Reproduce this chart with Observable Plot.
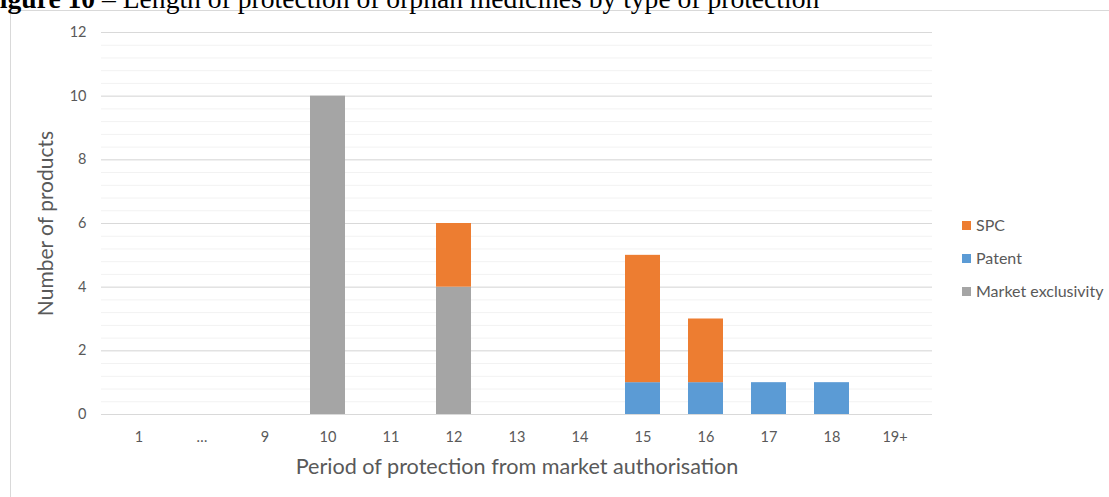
<!DOCTYPE html>
<html>
<head>
<meta charset="utf-8">
<script src="https://cdn.jsdelivr.net/npm/d3@7"></script>
<script src="https://cdn.jsdelivr.net/npm/@observablehq/plot@0.6"></script>
<style>
  html, body { margin: 0; padding: 0; background: #fff; overflow: hidden; }
  #wrap { position: relative; width: 1109px; height: 497px; overflow: hidden; }
  #title { position: absolute; left: -17px; top: -15px; font-family: "Liberation Serif", "Times New Roman", serif; font-size: 27.6px; color: #000; white-space: nowrap; line-height: 1; }
  #frame { position: absolute; left: 10px; top: 10px; width: 1200px; height: 600px; border: 1px solid #d9d9d9; box-sizing: border-box; }
  #chart { position: absolute; left: 0; top: 0; }
  #legend { position: absolute; left: 962px; top: 215px; font-family: Lato, "Open Sans", sans-serif; font-size: 16px; color: #595959; }
  #legend div { height: 33px; display: flex; align-items: flex-start; }
  #legend span.sw { display: inline-block; width: 9px; height: 9px; margin-right: 5px; margin-top: 6px; }
</style>
</head>
<body>
<div id="wrap">
  <div id="frame"></div>
  <div id="title"><b>Figure 10</b> – Length of protection of orphan medicines by type of protection</div>
  <div id="chart"></div>
  <div id="legend"></div>
</div>
<script>
const categories = ["1", "…", "9", "10", "11", "12", "13", "14", "15", "16", "17", "18", "19+"];
const seriesNames = ["SPC", "Patent", "Market exclusivity"];
const seriesColors = ["#ED7D31", "#5B9BD5", "#A5A5A5"];
const marketExclusivity = [0, 0, 0, 10, 0, 4, 0, 0, 0, 0, 0, 0, 0];
const patent =            [0, 0, 0, 0, 0, 0, 0, 0, 1, 1, 1, 1, 0];
const spc =               [0, 0, 0, 0, 0, 2, 0, 0, 4, 2, 0, 0, 0];
const yTicks = [0, 2, 4, 6, 8, 10, 12];

const data = [];
categories.forEach((c, i) => {
  data.push({cat: c, series: "Market exclusivity", value: marketExclusivity[i]});
  data.push({cat: c, series: "Patent", value: patent[i]});
  data.push({cat: c, series: "SPC", value: spc[i]});
});
const bars = data.filter(d => d.value > 0);
const minor = d3.range(0, 12.001, 0.4).map(v => +v.toFixed(1));

const font = 'Lato, "Open Sans", sans-serif';
const chart = Plot.plot({
  width: 1109,
  height: 497,
  marginTop: 32,
  marginBottom: 83,
  marginLeft: 101,
  marginRight: 177,
  style: {fontFamily: font, fontSize: "14px", color: "#595959", background: "transparent"},
  x: {domain: categories, paddingInner: 0.44, paddingOuter: 0.22, label: null, axis: null},
  y: {domain: [0, 12], label: null, axis: null},
  color: {domain: seriesNames, range: seriesColors},
  marks: [
    Plot.ruleY(minor, {stroke: "#f2f2f2", strokeWidth: 1}),
    Plot.ruleY(yTicks, {stroke: "#d9d9d9", strokeWidth: 1}),
    Plot.barY(bars, Plot.stackY({order: ["Market exclusivity", "Patent", "SPC"]}, {x: "cat", y: "value", fill: "series", z: "series"})),
    Plot.text(yTicks, {y: d => d, frameAnchor: "left", textAnchor: "end", dx: -15, fontSize: 14.5, fill: "#595959", text: d => String(d)}),
    Plot.text(categories, {x: d => d, frameAnchor: "bottom", lineAnchor: "middle", dy: 23, fontSize: 14.5, fill: "#595959", text: d => d}),
    Plot.text(["Number of products"], {frameAnchor: "left", textAnchor: "middle", dx: -55, rotate: -90, fontSize: 21, fill: "#595959"}),
    Plot.text(["Period of protection from market authorisation"], {frameAnchor: "bottom", lineAnchor: "middle", dy: 53, fontSize: 21.6, fill: "#595959"})
  ]
});
document.getElementById("chart").appendChild(chart);

const legend = document.getElementById("legend");
seriesNames.forEach((s, i) => {
  const row = document.createElement("div");
  row.innerHTML = `<span class="sw" style="background:${seriesColors[i]}"></span><span>${s}</span>`;
  legend.appendChild(row);
});
</script>
</body>
</html>
